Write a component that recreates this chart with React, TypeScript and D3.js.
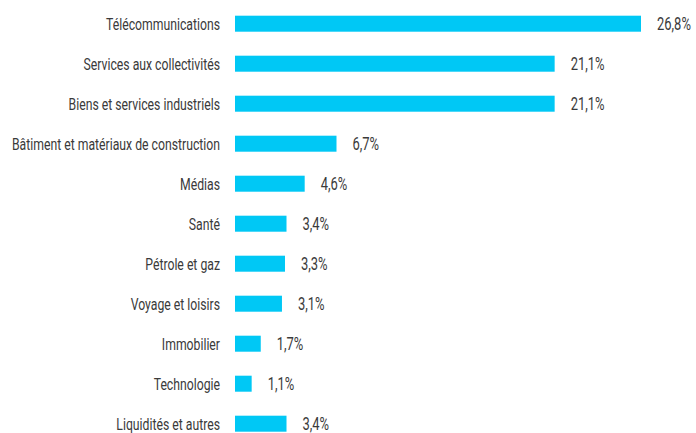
import React from "react";
import * as d3 from "d3";

const categories = [
  "Télécommunications",
  "Services aux collectivités",
  "Biens et services industriels",
  "Bâtiment et matériaux de construction",
  "Médias",
  "Santé",
  "Pétrole et gaz",
  "Voyage et loisirs",
  "Immobilier",
  "Technologie",
  "Liquidités et autres",
];
const values = [26.8, 21.1, 21.1, 6.7, 4.6, 3.4, 3.3, 3.1, 1.7, 1.1, 3.4];
const valueLabels = ["26,8%", "21,1%", "21,1%", "6,7%", "4,6%", "3,4%", "3,3%", "3,1%", "1,7%", "1,1%", "3,4%"];

const W = 696;
const H = 433;
const FONT = "Roboto, sans-serif";
const SX = 0.72;

export default function App() {
  const x = d3.scaleLinear().domain([0, 26.8]).range([235, 641]);
  const y = d3.scaleBand<string>().domain(categories).range([3.7, 443.7]).paddingInner(0.6).paddingOuter(0.3);
  const bh = y.bandwidth();
  return (
    <svg width={W} height={H} style={{ position: "absolute", left: 0, top: 0, background: "#fff" }}>
      {categories.map((c, i) => {
        const cy = (y(c) as number) + bh / 2;
        return (
          <g key={c}>
            <g transform={`translate(220,${cy}) scale(${SX},1)`}>
              <text x={0} y={0} dy="0.36em" textAnchor="end" fontFamily={FONT} fontSize={17} fill="#3a3a3a">
                {c}
              </text>
            </g>
            <rect x={x(0)} y={cy - 8} width={x(values[i]) - x(0)} height={16} fill="#00C8F5" />
            <g transform={`translate(${x(values[i]) + 16},${cy}) scale(${SX},1)`}>
              <text x={0} y={0} dy="0.36em" fontFamily={FONT} fontSize={18} fill="#3a3a3a">
                {valueLabels[i]}
              </text>
            </g>
          </g>
        );
      })}
    </svg>
  );
}
